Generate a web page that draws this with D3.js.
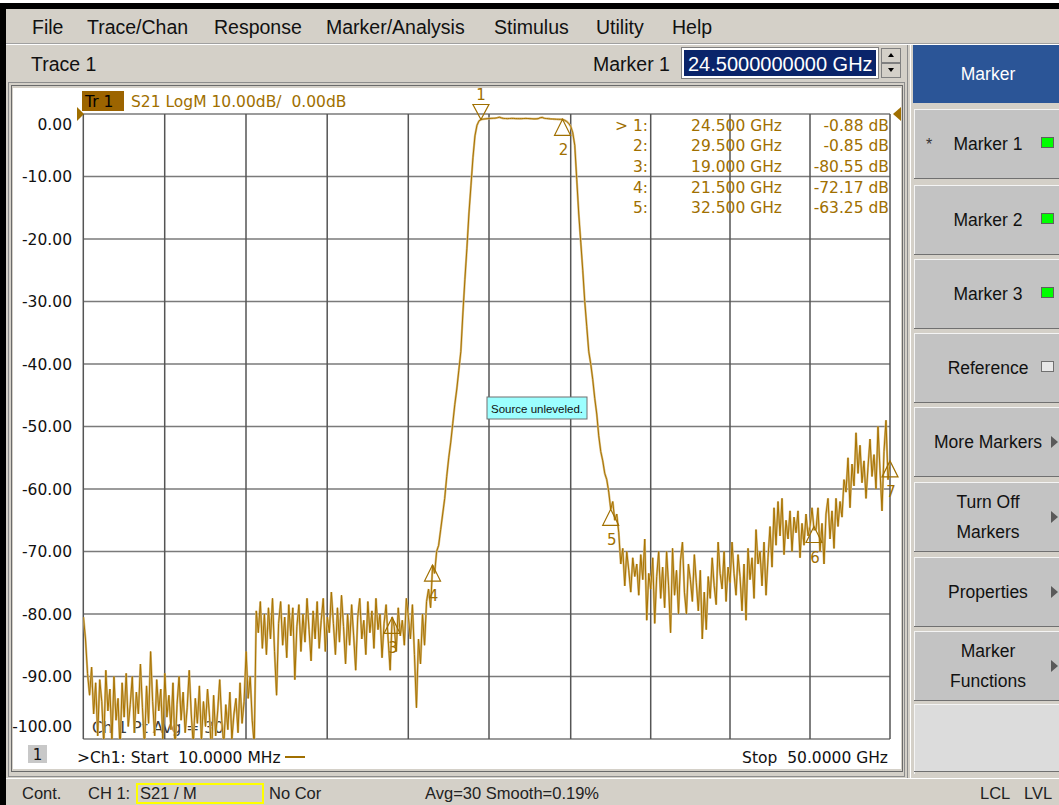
<!DOCTYPE html>
<html><head><meta charset="utf-8">
<script src="https://cdn.jsdelivr.net/npm/d3@7"></script>
<style>body{margin:0;background:#fff;overflow:hidden} text{white-space:pre}</style>
</head><body><svg id="c" width="1059" height="805"></svg>
<script>
// ---------------- DATA ----------------
const sweepStartGHz = 0.01, sweepStopGHz = 50, sweepPoints = 401;
const s21dB = [
 -80.5,-84.0,-89.5,-93.0,-88.5,-96.0,-91.0,-99.5,-90.5,-94.0,
 -101.0,-89.0,-95.5,-92.0,-100.5,-90.0,-97.0,-93.5,-102.0,-91.0,
 -96.5,-89.5,-98.0,-94.5,-90.0,-99.0,-92.5,-96.0,-88.0,-95.0,
 -101.5,-91.5,-97.5,-86.0,-94.0,-99.5,-90.5,-95.5,-92.0,-100.0,
 -89.5,-96.5,-93.0,-98.5,-91.0,-102.0,-94.5,-90.0,-97.0,-92.5,
 -99.0,-95.0,-89.0,-96.0,-101.0,-93.5,-97.5,-91.5,-100.5,-94.0,
 -98.0,-92.0,-96.5,-102.5,-93.0,-99.5,-95.5,-90.5,-97.0,-101.0,
 -94.5,-98.5,-92.5,-100.0,-96.0,-93.5,-99.0,-91.0,-97.5,-94.0,
 -86.0,-93.5,-90.0,-97.0,-101.0,
 -79.5,-83.0,-78.0,-85.5,-80.0,-86.5,-79.0,-84.0,-77.5,-86.0,
 -93.0,-81.5,-78.0,-85.0,-80.5,-87.0,-78.5,-83.5,-79.0,-90.5,
 -82.0,-78.5,-86.0,-80.0,-84.5,-77.5,-82.5,-87.5,-79.5,-84.0,
 -78.0,-85.5,-81.0,-77.5,-86.0,-80.5,-83.0,-76.5,-81.5,-86.5,
 -79.0,-84.5,-77.0,-82.0,-88.0,-80.0,-85.0,-78.5,-83.5,-89.0,
 -80.5,-77.5,-84.0,-81.0,-86.5,-78.0,-83.0,-79.5,-85.5,-77.5,
 -82.5,-80.0,-87.0,-81.5,-78.5,-84.0,-89.0,-80.5,-82.0,-86.0,
 -79.0,-83.5,-81.0,-85.0,-77.5,-80.5,-84.0,-78.5,-86.5,
 -95.0,-84.0,-88.0,-80.0,-85.0,-78.0,-76.0,-79.0,-72.2,-73.5,
 -70.0,-69.0,-66.5,-64.0,-61.5,-58.0,-55.0,-52.5,-49.5,-46.5,
 -44.0,-41.0,-38.0,-32.0,-26.5,-21.5,-16.0,-11.5,-7.0,-3.5,
 -1.8,-1.1,-0.88,
 -0.82,-0.78,-0.75,-0.72,-0.70,-0.68,-0.66,-0.60,-0.52,-0.62,
 -0.70,-0.72,-0.74,-0.72,-0.70,-0.71,-0.73,-0.74,-0.75,-0.74,
 -0.72,-0.71,-0.72,-0.74,-0.76,-0.78,-0.77,-0.75,-0.60,-0.55,
 -0.68,-0.72,-0.75,-0.78,-0.80,-0.82,-0.84,-0.85,-0.86,
 -0.85,-1.0,-1.2,-1.5,-2.0,-3.0,-5.0,-10.5,-16.0,-20.5,
 -25.0,-30.0,-34.0,-38.0,-40.0,-42.5,-45.5,-48.0,-51.5,-54.0,
 -55.5,-57.5,-58.5,-60.5,-63.25,-62.0,-65.0,-64.0,-67.0,-72.0,
 -69.5,-75.5,-70.0,-73.0,-76.5,-71.0,-74.0,-72.0,-77.0,-70.5,
 -74.5,-68.0,-81.0,-73.5,-76.0,-71.0,-81.5,-74.0,-70.0,-77.5,
 -72.5,-79.0,-70.0,-75.5,-83.0,-69.5,-77.0,-73.0,-80.0,-71.5,
 -68.5,-76.5,-80.0,-72.0,-74.5,-78.0,-70.5,-75.0,-79.5,-73.0,
 -84.0,-76.5,-82.5,-74.0,-77.5,-71.0,-75.5,-78.5,-68.5,-73.5,
 -76.0,-70.0,-78.0,-72.5,-75.0,-68.5,-73.5,-77.0,-70.5,-74.0,
 -79.5,-72.0,-81.0,-69.5,-74.5,-71.0,-77.5,-66.5,-72.0,-70.0,
 -75.5,-68.5,-77.0,-71.0,-66.0,-72.5,-63.0,-69.0,-62.0,-67.5,
 -61.5,-70.5,-65.0,-68.0,-63.5,-70.0,-64.5,-67.0,-63.5,-71.0,
 -65.5,-69.0,-64.0,-67.5,-66.0,-63.0,-66.5,-66.5,-63.0,-70.0,
 -65.5,-72.0,-64.0,-61.5,-68.0,-63.5,-69.5,-61.5,-66.0,-62.0,
 -64.5,-58.5,-60.5,-55.0,-63.0,-56.0,-59.5,-51.0,-57.5,-53.0,
 -59.0,-55.5,-61.5,-56.5,-52.0,-58.0,-54.5,-60.0,-50.0,-57.0,
 -63.5,-54.0,-49.0,-58.5,-56.0
];
const yTicks = [0,-10,-20,-30,-40,-50,-60,-70,-80,-90,-100];
const yTickLabels = ["0.00","-10.00","-20.00","-30.00","-40.00","-50.00","-60.00","-70.00","-80.00","-90.00","-100.00"];
const xGridGHz = [0,5,10,15,20,25,30,35,40,45,50];
const markerIds   = ["1","2","3","4","5","6","7"];
const markerFreqs = [24.5, 29.5, 19.0, 21.5, 32.5, 45.25, 50.0];
const markerDb    = [-0.88, -0.85, -80.55, -72.17, -63.25, -66.0, -55.5];
const tableIds   = ["> 1:","2:","3:","4:","5:"];
const tableFreqs = ["24.500 GHz","29.500 GHz","19.000 GHz","21.500 GHz","32.500 GHz"];
const tableVals  = ["-0.88 dB","-0.85 dB","-80.55 dB","-72.17 dB","-63.25 dB"];
const menuItems = ["File","Trace/Chan","Response","Marker/Analysis","Stimulus","Utility","Help"];
const softkeys = [["Marker 1"],["Marker 2"],["Marker 3"],["Reference"],["More Markers"],["Turn Off","Markers"],["Properties"],["Marker","Functions"],[]];
const softkeyIcon = ["onStar","on","on","off","arrow","arrow","arrow","arrow","none"];

// ---------------- LAYOUT ----------------
const menuX = [32,87,214,326,494,596,672];
const xGridPx = [83.3,164.7,246,327.2,408.3,489,570.7,650.7,730,810,890];
const plot = {top:114, bottom:739, left:83.3, right:890};
const keyTops = [109,185,259,333,407,482,557,631,704];
const UI = "'Liberation Sans', Arial, sans-serif";
const CH = "'DejaVu Sans', Verdana, sans-serif";
const gold = "#a06f00";

const svg = d3.select("#c");
const x = d3.scaleLinear().domain(xGridGHz).range(xGridPx);
const y = d3.scaleLinear().domain([-100,0]).range([plot.bottom, plot.top]);

// ---------------- WINDOW CHROME ----------------
svg.append("rect").attr("width",1059).attr("height",805).attr("fill","#fff");
svg.append("rect").attr("x",6).attr("y",9).attr("width",1053).attr("height",796).attr("fill","#d4d0c8");
svg.append("rect").attr("x",0).attr("y",3).attr("width",1059).attr("height",6).attr("fill","#000");
svg.append("rect").attr("x",0).attr("y",3).attr("width",6).attr("height",802).attr("fill","#000");
svg.append("line").attr("x1",6).attr("x2",1059).attr("y1",43.5).attr("y2",43.5).attr("stroke","#a0a0a0");
svg.append("line").attr("x1",6).attr("x2",1059).attr("y1",44.5).attr("y2",44.5).attr("stroke","#ffffff");

menuItems.forEach((m,i)=>svg.append("text").attr("x",menuX[i]).attr("y",34).text(m)
  .attr("font-family",UI).attr("font-size",19.5).attr("fill","#111"));

svg.append("text").attr("x",31).attr("y",71).text("Trace 1").attr("font-family",UI).attr("font-size",19.5).attr("fill","#111");
svg.append("text").attr("x",593).attr("y",71).text("Marker 1").attr("font-family",UI).attr("font-size",19.5).attr("fill","#111");
svg.append("rect").attr("x",681.5).attr("y",47.5).attr("width",197).attr("height",31).attr("fill","#fff").attr("stroke","#808080");
svg.append("rect").attr("x",684).attr("y",50).attr("width",192).attr("height",26).attr("fill","#0a246a");
svg.append("text").attr("x",688).attr("y",71).text("24.5000000000 GHz").attr("font-family",UI).attr("font-size",20).attr("fill","#fff");
// spinner
[[48,62],[63,77]].forEach(([a,b],k)=>{
  svg.append("rect").attr("x",881.5).attr("y",a+0.5).attr("width",19).attr("height",b-a).attr("fill","#d4d0c8").attr("stroke","#808080");
  const cy=(a+b)/2;
  svg.append("path").attr("d", k===0 ? `M888,${cy+2}L894,${cy+2}L891,${cy-2}Z` : `M888,${cy-2}L894,${cy-2}L891,${cy+2}Z`).attr("fill","#000");
});

// chart panel frame
svg.append("rect").attr("x",8.5).attr("y",82.5).attr("width",896).attr("height",694).attr("fill","none").attr("stroke","#8c8c8c");
svg.append("rect").attr("x",11.5).attr("y",85.5).attr("width",891).attr("height",686).attr("fill","none").attr("stroke","#6a6a6a");
svg.append("rect").attr("x",13).attr("y",88).attr("width",888).attr("height",681).attr("fill","#fff");
svg.append("line").attr("x1",907.5).attr("x2",907.5).attr("y1",45).attr("y2",778).attr("stroke","#8c8c8c");
svg.append("line").attr("x1",910.5).attr("x2",910.5).attr("y1",45).attr("y2",778).attr("stroke","#ffffff");

// right softkey panel
svg.append("rect").attr("x",913).attr("y",45).attr("width",146).attr("height",58).attr("fill","#2b5597");
svg.append("text").attr("x",988).attr("y",80).attr("text-anchor","middle").text("Marker")
  .attr("font-family",UI).attr("font-size",17.5).attr("fill","#fff");
keyTops.forEach((t,i)=>{
  const h = 70, last = i===keyTops.length-1;
  const g = svg.append("g");
  g.append("rect").attr("x",914).attr("y",t).attr("width",145).attr("height",last?68:h).attr("fill",last?"#dcdcdc":"#c3c3c3");
  g.append("line").attr("x1",914).attr("x2",1059).attr("y1",t+0.5).attr("y2",t+0.5).attr("stroke","#f4f4f4");
  g.append("line").attr("x1",914.5).attr("x2",914.5).attr("y1",t).attr("y2",t+h).attr("stroke","#f4f4f4");
  g.append("line").attr("x1",914).attr("x2",1059).attr("y1",t+(last?68:h)-0.5).attr("y2",t+(last?68:h)-0.5).attr("stroke","#707070");
  const lines = softkeys[i];
  const cy = t + h/2;
  lines.forEach((s,j)=>{
    const yy = lines.length===1 ? cy+6 : cy - 9 + j*30;
    g.append("text").attr("x",988).attr("y",yy).attr("text-anchor","middle").text(s)
      .attr("font-family",UI).attr("font-size",17.5).attr("fill","#111");
  });
  const ic = softkeyIcon[i];
  if(ic==="on"||ic==="onStar"){
    g.append("rect").attr("x",1041.5).attr("y",cy-6.5).attr("width",12).attr("height",10).attr("fill","#00ff00").attr("stroke","#606060");
  }
  if(ic==="onStar"){
    g.append("text").attr("x",929).attr("y",cy+6).attr("text-anchor","middle").text("*")
      .attr("font-family",UI).attr("font-size",16).attr("fill","#333");
  }
  if(ic==="off"){
    g.append("rect").attr("x",1041.5).attr("y",cy-6.5).attr("width",12).attr("height",10).attr("fill","#e8e8e8").attr("stroke","#707070");
  }
  if(ic==="arrow"){
    g.append("path").attr("d",`M1051,${cy-6}L1058,${cy}L1051,${cy+6}Z`).attr("fill","#5a5a5a");
  }
});

// status bar
svg.append("line").attr("x1",6).attr("x2",1059).attr("y1",778.5).attr("y2",778.5).attr("stroke","#ffffff");
const st = (tx,xx)=>svg.append("text").attr("x",xx).attr("y",799).text(tx).attr("font-family",UI).attr("font-size",16.5).attr("fill","#222");
st("Cont.",22); st("CH 1:",88);
svg.append("rect").attr("x",137).attr("y",784).attr("width",126).attr("height",19).attr("fill","none").attr("stroke","#ffff00").attr("stroke-width",2);
st("S21 / M",140); st("No Cor",269); st("Avg=30 Smooth=0.19%",425); st("LCL",980); st("LVL",1024);

// ---------------- CHART ----------------
const grid = svg.append("g");
yTicks.forEach(v=>grid.append("line").attr("x1",plot.left).attr("x2",plot.right)
  .attr("y1",y(v)).attr("y2",y(v)).attr("stroke","#7a7a7a").attr("stroke-width",1.5));
xGridGHz.forEach(v=>grid.append("line").attr("x1",x(v)).attr("x2",x(v))
  .attr("y1",plot.top).attr("y2",plot.bottom).attr("stroke","#555").attr("stroke-width",1.5));

// y axis labels
yTicks.forEach((v,i)=>{
  const shift = v===0 ? 15.5 : (v===-100 ? -7 : 5.5);
  svg.append("text").attr("x",72).attr("y",y(v)+shift).attr("text-anchor","end").text(yTickLabels[i])
    .attr("font-family",CH).attr("font-size",15.5).attr("fill","#111");
});

// trace title
svg.append("rect").attr("x",82).attr("y",91).attr("width",42).attr("height",20).attr("fill","#9c6400");
svg.append("text").attr("x",85).attr("y",107).text("Tr 1").attr("font-family",CH).attr("font-size",15.5).attr("fill","#000");
svg.append("text").attr("x",131).attr("y",107).text("S21 LogM 10.00dB/  0.00dB").attr("font-family",CH).attr("font-size",15.5).attr("fill",gold);

// reference arrows
svg.append("path").attr("d",`M77,${y(0)-7}L84,${y(0)}L77,${y(0)+7}Z`).attr("fill",gold);
svg.append("path").attr("d",`M901,${y(0)-7}L893,${y(0)}L901,${y(0)+7}Z`).attr("fill",gold);

// "Ch 1 Pt Avg" annotation (under the trace)
svg.append("text").attr("x",92).attr("y",733).text("Ch 1 Pt Avg = 30").attr("font-family",CH).attr("font-size",15.5).attr("fill","#3a3a3a");

// trace
svg.append("clipPath").attr("id","pc").append("rect").attr("x",plot.left).attr("y",plot.top)
  .attr("width",plot.right-plot.left).attr("height",plot.bottom-plot.top);
const step = (sweepStopGHz - sweepStartGHz)/(sweepPoints-1);
const pts = s21dB.map((d,i)=>[sweepStartGHz + i*step, d]);
const line = d3.line().x(d=>x(d[0])).y(d=>y(d[1]));
svg.append("path").datum(pts).attr("d",line).attr("clip-path","url(#pc)")
  .attr("fill","none").attr("stroke","#d8bc80").attr("stroke-width",2.2).attr("stroke-linejoin","miter");
svg.append("path").datum(pts).attr("d",line).attr("clip-path","url(#pc)")
  .attr("fill","none").attr("stroke","#a87300").attr("stroke-width",1);

// markers
markerIds.forEach((id,i)=>{
  const mx = x(markerFreqs[i]), my = y(markerDb[i]);
  if(i===0){
    svg.append("path").attr("d",`M${mx-8},${my-15}L${mx+8},${my-15}L${mx},${my}Z`).attr("fill","none").attr("stroke",gold).attr("stroke-width",1.2);
    svg.append("text").attr("x",mx).attr("y",my-20).attr("text-anchor","middle").text(id).attr("font-family",CH).attr("font-size",15).attr("fill",gold);
  } else {
    svg.append("path").attr("d",`M${mx},${my}L${mx-8},${my+16}L${mx+8},${my+16}Z`).attr("fill","none").attr("stroke",gold).attr("stroke-width",1.2);
    svg.append("text").attr("x",mx+1).attr("y",my+36).attr("text-anchor","middle").text(id).attr("font-family",CH).attr("font-size",15).attr("fill",gold);
  }
});

// marker table
tableIds.forEach((t,i)=>{
  const yy = 130.5 + i*20.7;
  [[t,648],[tableFreqs[i],782],[tableVals[i],889]].forEach(([s,xx])=>
    svg.append("text").attr("x",xx).attr("y",yy).attr("text-anchor","end").text(s)
      .attr("font-family",CH).attr("font-size",15.5).attr("fill",gold));
});

// source unleveled message
svg.append("rect").attr("x",487).attr("y",397).attr("width",100).attr("height",22).attr("fill","#9cffff").attr("stroke","#707070");
svg.append("text").attr("x",491).attr("y",413).text("Source unleveled.").attr("font-family",UI).attr("font-size",11.5).attr("fill","#111");

// footer of chart
svg.append("rect").attr("x",28).attr("y",745).attr("width",19).attr("height",18).attr("fill","#c8c8c8");
svg.append("text").attr("x",37.5).attr("y",760).attr("text-anchor","middle").text("1").attr("font-family",CH).attr("font-size",15).attr("fill","#111");
svg.append("text").attr("x",77).attr("y",763).text(">Ch1: Start  10.0000 MHz").attr("font-family",CH).attr("font-size",15.5).attr("fill","#111");
svg.append("line").attr("x1",285).attr("x2",305).attr("y1",757).attr("y2",757).attr("stroke",gold).attr("stroke-width",2);
svg.append("text").attr("x",888).attr("y",763).attr("text-anchor","end").text("Stop  50.0000 GHz").attr("font-family",CH).attr("font-size",15.5).attr("fill","#111");
</script></body></html>
